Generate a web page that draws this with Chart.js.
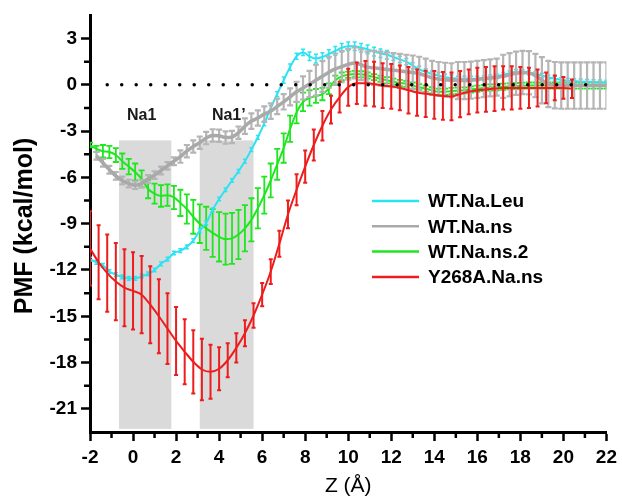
<!DOCTYPE html>
<html>
<head>
<meta charset="utf-8">
<script src="https://cdn.jsdelivr.net/npm/chart.js@4.4.1/dist/chart.umd.min.js"></script>
<style>
  html, body { margin: 0; padding: 0; background: #fff; }
</style>
</head>
<body>
<canvas id="pmfChart" width="622" height="496"></canvas>
<script>
// z positions (Å) of the WT windows
const zGrid = [-2.0, -1.7, -1.4, -1.1, -0.8, -0.5, -0.2, 0.1, 0.4, 0.7,
  1.0, 1.3, 1.6, 1.9, 2.2, 2.5, 2.8, 3.1, 3.4, 3.7,
  4.0, 4.3, 4.6, 4.9, 5.2, 5.5, 5.8, 6.1, 6.4, 6.7,
  7.0, 7.3, 7.6, 7.9, 8.2, 8.5, 8.8, 9.1, 9.4, 9.7,
  10.0, 10.3, 10.6, 10.9, 11.2, 11.5, 11.8, 12.1, 12.4, 12.7,
  13.0, 13.3, 13.6, 13.9, 14.2, 14.5, 14.8, 15.1, 15.4, 15.7,
  16.0, 16.3, 16.6, 16.9, 17.2, 17.5, 17.8, 18.1, 18.4, 18.7,
  19.0, 19.3, 19.6, 19.9, 20.2, 20.5, 20.8, 21.1, 21.4, 21.7, 22.0];

const leuPMF = [-11.3, -11.5, -11.7, -12.1, -12.3, -12.45, -12.55, -12.55, -12.4, -12.25,
  -12.0, -11.6, -11.3, -10.9, -10.75, -10.5, -10.1, -9.45, -8.95, -8.1,
  -7.4, -6.8, -6.2, -5.6, -4.95, -4.2, -3.4, -2.5, -1.5, -0.6,
  0.3, 1.15, 1.85, 2.1, 1.85, 1.7, 1.8, 2.0, 2.2, 2.4,
  2.5, 2.5, 2.4, 2.3, 2.15, 2.05, 1.95, 1.8, 1.65, 1.5,
  1.25, 1.0, 0.85, 0.7, 0.6, 0.5, 0.45, 0.4, 0.4, 0.4,
  0.4, 0.42, 0.48, 0.55, 0.65, 0.75, 0.85, 0.85, 0.8, 0.7,
  0.6, 0.48, 0.4, 0.32, 0.28, 0.25, 0.22, 0.2, 0.18, 0.17, 0.15];
const leuErr = [0.12, 0.12, 0.12, 0.12, 0.12, 0.12, 0.12, 0.12, 0.12, 0.12,
  0.12, 0.12, 0.12, 0.12, 0.12, 0.12, 0.12, 0.12, 0.12, 0.12,
  0.12, 0.12, 0.12, 0.12, 0.12, 0.12, 0.12, 0.15, 0.15, 0.15,
  0.2, 0.2, 0.2, 0.2, 0.28, 0.28, 0.28, 0.28, 0.28, 0.28,
  0.28, 0.28, 0.28, 0.28, 0.28, 0.28, 0.28, 0.2, 0.2, 0.2,
  0.2, 0.2, 0.2, 0.2, 0.2, 0.2, 0.2, 0.15, 0.15, 0.15,
  0.15, 0.15, 0.15, 0.15, 0.15, 0.15, 0.15, 0.15, 0.15, 0.15,
  0.15, 0.15, 0.15, 0.15, 0.15, 0.15, 0.15, 0.15, 0.15, 0.15, 0.15];

const nsPMF = [null, -4.6, -5.05, -5.5, -5.9, -6.2, -6.4, -6.5, -6.4, -6.1,
  -5.85, -5.55, -5.25, -4.95, -4.65, -4.3, -4.0, -3.75, -3.45, -3.28,
  -3.3, -3.42, -3.38, -3.1, -2.68, -2.35, -2.15, -1.9, -1.7, -1.4,
  -1.1, -0.78, -0.45, -0.2, 0.05, 0.3, 0.55, 0.82, 1.03, 1.18,
  1.33, 1.42, 1.3, 1.15, 1.1, 1.05, 1.0, 0.95, 0.9, 0.85,
  0.8, 0.72, 0.6, 0.45, 0.38, 0.33, 0.3, 0.28, 0.28, 0.3,
  0.35, 0.4, 0.45, 0.5, 0.55, 0.65, 0.75, 0.8, 0.78, 0.6,
  0.3, 0.05, -0.02, -0.05, -0.05, -0.05, -0.05, -0.05, -0.05, -0.05, -0.05];
const nsErr = [0, 0.25, 0.25, 0.25, 0.25, 0.25, 0.25, 0.25, 0.25, 0.25,
  0.25, 0.25, 0.25, 0.25, 0.4, 0.4, 0.4, 0.4, 0.4, 0.4,
  0.4, 0.4, 0.4, 0.4, 0.5, 0.5, 0.5, 0.5, 0.5, 0.5,
  0.5, 0.55, 0.65, 0.75, 0.85, 1.0, 1.0, 1.0, 1.0, 1.0,
  1.0, 1.0, 1.0, 1.0, 1.1, 1.1, 1.1, 1.1, 1.1, 1.1,
  1.1, 1.1, 1.1, 1.1, 1.1, 1.1, 1.1, 1.2, 1.2, 1.2,
  1.2, 1.2, 1.2, 1.2, 1.4, 1.4, 1.4, 1.4, 1.4, 1.4,
  1.5, 1.5, 1.5, 1.5, 1.5, 1.5, 1.5, 1.5, 1.5, 1.5, 1.5];

const ns2PMF = [-3.9, -4.15, -4.3, -4.35, -4.55, -4.95, -5.3, -5.65, -6.1, -6.75,
  -7.05, -7.2, -7.15, -7.3, -7.65, -8.05, -8.55, -9.0, -9.3, -9.6,
  -9.85, -10.0, -9.95, -9.7, -9.3, -8.75, -8.0, -7.15, -6.2, -5.15,
  -4.1, -2.85, -1.8, -1.1, -0.85, -0.72, -0.6, -0.25, 0.3, 0.55,
  0.65, 0.7, 0.68, 0.6, 0.5, 0.4, 0.3, 0.2, 0.12, 0.06,
  -0.05, -0.15, -0.25, -0.35, -0.45, -0.45, -0.4, -0.38, -0.36, -0.3,
  -0.25, -0.2, -0.17, -0.15, -0.12, -0.1, -0.08, -0.06, -0.05, -0.05,
  -0.05, -0.05, -0.05, -0.05, -0.05, -0.05, -0.05, -0.05, -0.05, -0.05, -0.05];
const ns2Err = [0.15, 0.2, 0.4, 0.4, 0.45, 0.5, 0.5, 0.55, 0.55, 0.6,
  0.65, 0.7, 0.7, 0.75, 0.85, 0.95, 1.1, 1.25, 1.4, 1.55,
  1.6, 1.65, 1.65, 1.6, 1.5, 1.4, 1.3, 1.2, 1.1, 1.0,
  0.95, 0.85, 0.7, 0.6, 0.5, 0.45, 0.4, 0.35, 0.3, 0.25,
  0.2, 0.2, 0.2, 0.2, 0.2, 0.2, 0.2, 0.2, 0.2, 0.2,
  0.2, 0.2, 0.2, 0.2, 0.2, 0.2, 0.2, 0.2, 0.2, 0.2,
  0.2, 0.2, 0.2, 0.2, 0.2, 0.2, 0.2, 0.2, 0.2, 0.2,
  0.2, 0.2, 0.2, 0.2, 0.2, 0.2, 0.2, 0.2, 0.2, 0.2, 0.2];

// Y268A windows
const mutZ = [-2.0, -1.6, -1.2, -0.8, -0.4, 0.0, 0.4, 0.8, 1.2, 1.6,
  2.0, 2.4, 2.8, 3.2, 3.6, 4.0, 4.4, 4.8, 5.2, 5.6,
  6.0, 6.4, 6.8, 7.2, 7.6, 8.0, 8.4, 8.8, 9.2, 9.6,
  10.0, 10.4, 10.8, 11.2, 11.6, 12.0, 12.4, 12.8, 13.2, 13.6,
  14.0, 14.4, 14.8, 15.2, 15.6, 16.0, 16.4, 16.8, 17.2, 17.6,
  18.0, 18.4, 18.8, 19.2, 19.6, 20.0, 20.4];
const mutPMF = [-10.6, -11.5, -12.2, -12.75, -13.15, -13.35, -13.6, -14.25, -15.0, -15.8,
  -16.6, -17.3, -17.95, -18.45, -18.6, -18.4, -17.85, -17.05, -16.1, -14.95,
  -13.6, -12.1, -10.3, -8.4, -6.8, -5.3, -3.9, -2.65, -1.6, -0.8,
  -0.15, 0.1, 0.1, 0.05, -0.05, -0.1, -0.2, -0.35, -0.5, -0.58,
  -0.65, -0.72, -0.75, -0.6, -0.45, -0.35, -0.3, -0.25, -0.2, -0.2,
  -0.2, -0.2, -0.2, -0.2, -0.2, -0.2, -0.25];
const mutErr = [2.4, 2.4, 2.5, 2.5, 2.5, 2.5, 2.5, 2.5, 2.4, 2.3,
  2.2, 2.1, 2.05, 2.0, 1.75, 1.4, 1.1, 0.95, 0.85, 0.8,
  0.75, 0.8, 0.85, 0.9, 1.0, 1.05, 1.0, 0.95, 0.9, 1.0,
  1.2, 1.35, 1.45, 1.45, 1.45, 1.45, 1.45, 1.5, 1.5, 1.5,
  1.55, 1.55, 1.55, 1.5, 1.45, 1.45, 1.45, 1.45, 1.4, 1.4,
  1.35, 1.3, 1.2, 1.0, 0.8, 0.7, 0.6];

const seriesNames = ['WT.Na.Leu', 'WT.Na.ns', 'WT.Na.ns.2', 'Y268A.Na.ns'];
const seriesColors = ['#2be3f2', '#a9a9a9', '#1fe61f', '#ee1d1d'];

// Na binding sites (shaded boxes)
const siteNames = ['Na1', 'Na1\u2019'];
const siteFrom = [-0.65, 3.1];
const siteTo = [1.78, 5.6];
const siteTop = -3.6;
const siteBottom = -22.3;
const siteLabelZ = [0.4, 4.45];
const siteLabelPMF = -2.0;

const xTitle = 'Z (\u00c5)';
const yTitle = 'PMF (kcal/mol)';
const FONT = '"Liberation Sans", Arial, sans-serif';

function pts(zs, vals) {
  return zs.map((z, i) => ({ x: z, y: vals[i] }));
}

const errorPlugin = {
  id: 'pmfDecor',
  beforeDatasetsDraw(chart) {
    const { ctx, scales: { x, y } } = chart;
    ctx.save();
    ctx.fillStyle = '#dadada';
    for (let i = 0; i < siteNames.length; i++) {
      const x0 = x.getPixelForValue(siteFrom[i]);
      const x1 = x.getPixelForValue(siteTo[i]);
      const y0 = y.getPixelForValue(siteTop);
      const y1 = y.getPixelForValue(siteBottom);
      ctx.fillRect(x0, y0, x1 - x0, y1 - y0);
    }
    ctx.restore();
  },
  beforeDatasetDraw(chart, args) {
    const ds = chart.data.datasets[args.index];
    if (!ds.errors) return;
    const { ctx, chartArea: a, scales: { x, y } } = chart;
    ctx.save();
    ctx.beginPath();
    ctx.rect(a.left, a.top, a.right - a.left, a.bottom - a.top);
    ctx.clip();
    ctx.strokeStyle = ds.errColor || ds.borderColor;
    ctx.lineWidth = ds.errWidth;
    ctx.beginPath();
    ds.data.forEach((p, i) => {
      const e = ds.errors[i];
      if (p.y == null || !e) return;
      const px = x.getPixelForValue(p.x);
      const top = y.getPixelForValue(p.y + e);
      const bot = y.getPixelForValue(p.y - e);
      ctx.moveTo(px, top); ctx.lineTo(px, bot);
      ctx.moveTo(px - ds.capHalf, top); ctx.lineTo(px + ds.capHalf, top);
      ctx.moveTo(px - ds.capHalf, bot); ctx.lineTo(px + ds.capHalf, bot);
    });
    ctx.stroke();
    ctx.restore();
  },
  afterDatasetsDraw(chart) {
    const { ctx, scales: { x, y } } = chart;
    // dotted zero line
    ctx.save();
    ctx.strokeStyle = '#000';
    ctx.lineWidth = 3.5;
    ctx.lineCap = 'round';
    ctx.setLineDash([0, 14.5]);
    ctx.beginPath();
    ctx.moveTo(x.getPixelForValue(-1.2), y.getPixelForValue(0));
    ctx.lineTo(x.getPixelForValue(21.6), y.getPixelForValue(0));
    ctx.stroke();
    ctx.restore();

    ctx.save();
    ctx.fillStyle = '#1a1a1a';
    ctx.font = 'bold 16px ' + FONT;
    ctx.textAlign = 'center';
    ctx.textBaseline = 'middle';
    siteNames.forEach((n, i) => {
      ctx.fillText(n, x.getPixelForValue(siteLabelZ[i]), y.getPixelForValue(siteLabelPMF));
    });
    ctx.restore();
  },
  afterDraw(chart) {
    const { ctx, chartArea: a, scales: { x, y } } = chart;
    ctx.save();
    ctx.strokeStyle = '#000';
    ctx.lineWidth = 2.5;
    ctx.beginPath();
    x.ticks.forEach(t => {
      if (Math.abs(t.value % 2) > 1e-6) {
        const px = x.getPixelForValue(t.value);
        ctx.moveTo(px, a.bottom); ctx.lineTo(px, a.bottom + 6);
      }
    });
    y.ticks.forEach(t => {
      if (Math.abs(t.value % 3) > 1e-6 && t.value > y.min && t.value < y.max) {
        const py = y.getPixelForValue(t.value);
        ctx.moveTo(a.left, py); ctx.lineTo(a.left - 6, py);
      }
    });
    ctx.stroke();

    // axis titles
    ctx.fillStyle = '#000';
    ctx.textAlign = 'center';
    ctx.textBaseline = 'middle';
    ctx.font = '21px ' + FONT;
    ctx.fillText(xTitle, (a.left + a.right) / 2, 486);
    ctx.save();
    ctx.translate(25, 226);
    ctx.rotate(-Math.PI / 2);
    ctx.font = 'bold 25px ' + FONT;
    ctx.fillText(yTitle, 0, 0);
    ctx.restore();

    // legend
    ctx.font = 'bold 19px ' + FONT;
    ctx.textAlign = 'left';
    seriesNames.forEach((n, i) => {
      const ly = 201 + i * 25.3;
      ctx.strokeStyle = seriesColors[i];
      ctx.lineWidth = 2.5;
      ctx.beginPath();
      ctx.moveTo(372, ly); ctx.lineTo(419, ly);
      ctx.stroke();
      ctx.fillStyle = '#000';
      ctx.fillText(n, 428, ly + 1);
    });
    ctx.restore();
  }
};

const lineBase = {
  pointRadius: 0,
  pointHoverRadius: 0,
  fill: false,
  cubicInterpolationMode: 'monotone',
  spanGaps: false
};

new Chart(document.getElementById('pmfChart'), {
  type: 'line',
  data: {
    datasets: [
      Object.assign({}, lineBase, {
        label: seriesNames[0], data: pts(zGrid, leuPMF), errors: leuErr,
        borderColor: seriesColors[0], borderWidth: 2, errWidth: 1.5, capHalf: 2, order: 2
      }),
      Object.assign({}, lineBase, {
        label: seriesNames[1], data: pts(zGrid, nsPMF), errors: nsErr,
        borderColor: seriesColors[1], errColor: '#b5b5b5', borderWidth: 3.5, errWidth: 2.2, capHalf: 3, order: 1
      }),
      Object.assign({}, lineBase, {
        label: seriesNames[2], data: pts(zGrid, ns2PMF), errors: ns2Err,
        borderColor: seriesColors[2], borderWidth: 2, errWidth: 1.8, capHalf: 3, order: 3
      }),
      Object.assign({}, lineBase, {
        label: seriesNames[3], data: pts(mutZ, mutPMF), errors: mutErr,
        borderColor: seriesColors[3], borderWidth: 2, errWidth: 2, capHalf: 2, order: 0
      })
    ]
  },
  options: {
    responsive: false,
    animation: false,
    devicePixelRatio: 1,
    layout: { padding: { top: 15, right: 12, left: 0, bottom: 0 } },
    plugins: { legend: { display: false }, tooltip: { enabled: false } },
    scales: {
      x: {
        type: 'linear',
        min: -2, max: 22,
        afterFit: s => { s.height = 64; },
        border: { display: true, color: '#000', width: 3 },
        grid: {
          drawOnChartArea: false, drawTicks: true, tickLength: 9, tickWidth: 2.5,
          tickColor: c => (c.tick && Math.abs(c.tick.value % 2) < 1e-6) ? '#000' : 'rgba(0,0,0,0)'
        },
        ticks: {
          stepSize: 1, autoSkip: false, maxRotation: 0, padding: 5, color: '#000',
          font: { family: FONT, size: 19, weight: 'bold' },
          callback: v => (Math.abs(v % 2) < 1e-6 ? String(v) : '')
        }
      },
      y: {
        min: -22.5, max: 4.5,
        afterFit: s => { s.width = 90; },
        border: { display: true, color: '#000', width: 3 },
        grid: {
          drawOnChartArea: false, drawTicks: true, tickLength: 9, tickWidth: 2.5,
          tickColor: c => (c.tick && Math.abs(c.tick.value % 3) < 1e-6) ? '#000' : 'rgba(0,0,0,0)'
        },
        ticks: {
          stepSize: 1.5, autoSkip: false, padding: 4, color: '#000',
          font: { family: FONT, size: 19, weight: 'bold' },
          callback: v => (Math.abs(v % 3) < 1e-6 ? String(Math.round(v)) : '')
        }
      }
    }
  },
  plugins: [errorPlugin]
});
</script>
</body>
</html>
